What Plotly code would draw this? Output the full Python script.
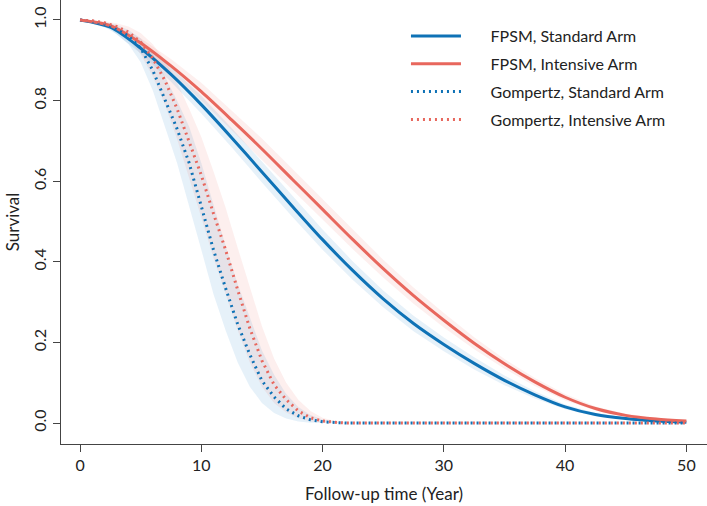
import plotly.graph_objects as go

# ---- data ----
fpsm_years = [0, 2.5, 5, 7.5, 10, 12.5, 15, 17.5, 20, 22.5, 25, 27.5, 30, 32.5, 35, 37.5, 40, 42.5, 45, 47.5, 50]
fpsm_std = [1.0, 0.982, 0.93, 0.865, 0.79, 0.708, 0.623, 0.538, 0.455, 0.378, 0.308, 0.247, 0.195, 0.148, 0.106, 0.07, 0.04, 0.021, 0.011, 0.005, 0.002]
fpsm_std_lo = [1.0, 0.977, 0.917, 0.847, 0.768, 0.684, 0.597, 0.512, 0.43, 0.355, 0.287, 0.228, 0.178, 0.133, 0.094, 0.061, 0.034, 0.017, 0.008, 0.003, 0.001]
fpsm_std_hi = [1.0, 0.987, 0.943, 0.883, 0.812, 0.732, 0.649, 0.564, 0.48, 0.401, 0.329, 0.266, 0.212, 0.163, 0.118, 0.079, 0.046, 0.025, 0.014, 0.007, 0.004]
fpsm_int = [1.0, 0.986, 0.943, 0.886, 0.822, 0.752, 0.68, 0.605, 0.53, 0.455, 0.383, 0.316, 0.255, 0.198, 0.147, 0.102, 0.064, 0.036, 0.019, 0.01, 0.005]
fpsm_int_lo = [1.0, 0.981, 0.931, 0.869, 0.8, 0.728, 0.654, 0.579, 0.505, 0.431, 0.361, 0.296, 0.237, 0.183, 0.135, 0.092, 0.056, 0.031, 0.015, 0.007, 0.003]
fpsm_int_hi = [1.0, 0.991, 0.955, 0.903, 0.844, 0.776, 0.706, 0.631, 0.555, 0.479, 0.405, 0.336, 0.273, 0.213, 0.159, 0.112, 0.072, 0.041, 0.023, 0.013, 0.007]

gomp_years = list(range(0, 51))
gomp_std = [1.0, 0.997, 0.99, 0.978, 0.96, 0.93, 0.875, 0.80, 0.73, 0.645, 0.54, 0.43, 0.335, 0.245, 0.17, 0.105, 0.065, 0.035, 0.018, 0.008, 0.003, 0.001, 0.0] + [0.0] * 28
gomp_std_lo = [1.0, 0.995, 0.983, 0.965, 0.94, 0.895, 0.825, 0.735, 0.645, 0.54, 0.43, 0.32, 0.23, 0.15, 0.09, 0.05, 0.025, 0.011, 0.004, 0.001, 0.0, 0.0, 0.0] + [0.0] * 28
gomp_std_hi = [1.0, 0.999, 0.995, 0.988, 0.975, 0.955, 0.915, 0.86, 0.8, 0.735, 0.645, 0.54, 0.44, 0.345, 0.26, 0.18, 0.12, 0.072, 0.04, 0.02, 0.009, 0.003, 0.001] + [0.0] * 28
gomp_int = [1.0, 0.998, 0.993, 0.984, 0.97, 0.945, 0.905, 0.85, 0.78, 0.70, 0.615, 0.52, 0.43, 0.33, 0.235, 0.155, 0.095, 0.058, 0.03, 0.013, 0.005, 0.002, 0.0] + [0.0] * 28
gomp_int_lo = [1.0, 0.996, 0.987, 0.973, 0.952, 0.915, 0.86, 0.79, 0.705, 0.61, 0.51, 0.41, 0.32, 0.23, 0.15, 0.09, 0.05, 0.026, 0.012, 0.004, 0.001, 0.0, 0.0] + [0.0] * 28
gomp_int_hi = [1.0, 0.999, 0.997, 0.992, 0.984, 0.968, 0.94, 0.9, 0.845, 0.78, 0.71, 0.625, 0.535, 0.435, 0.335, 0.24, 0.16, 0.1, 0.058, 0.03, 0.013, 0.005, 0.001] + [0.0] * 28

x_ticks = [0, 10, 20, 30, 40, 50]
y_ticks = [0.0, 0.2, 0.4, 0.6, 0.8, 1.0]
y_tick_labels = ["0.0", "0.2", "0.4", "0.6", "0.8", "1.0"]
series_names = ["FPSM, Standard Arm", "FPSM, Intensive Arm", "Gompertz, Standard Arm", "Gompertz, Intensive Arm"]

BLUE = "#0e72b6"
RED = "#e8675d"
BLUE_BAND = "rgba(60,150,210,0.13)"
RED_BAND = "rgba(240,110,100,0.11)"
FONT = "Lato"
PAD = "\u00a0" * 6

fig = go.Figure()

def band(xs, lo, hi, color):
    fig.add_trace(go.Scatter(
        x=list(xs) + list(xs)[::-1], y=list(hi) + list(lo)[::-1],
        fill="toself", fillcolor=color, line=dict(width=0), mode="lines",
        hoverinfo="skip", showlegend=False))

band(gomp_years, gomp_std_lo, gomp_std_hi, BLUE_BAND)
band(gomp_years, gomp_int_lo, gomp_int_hi, RED_BAND)
band(fpsm_years, fpsm_std_lo, fpsm_std_hi, BLUE_BAND)
band(fpsm_years, fpsm_int_lo, fpsm_int_hi, RED_BAND)

fig.add_trace(go.Scatter(x=fpsm_years, y=fpsm_std, mode="lines", name=PAD + series_names[0],
                         legendgroup="a", line=dict(color=BLUE, width=3, shape="spline", smoothing=0.8)))
fig.add_trace(go.Scatter(x=fpsm_years, y=fpsm_int, mode="lines", name=PAD + series_names[1],
                         legendgroup="b", line=dict(color=RED, width=3, shape="spline", smoothing=0.8)))
fig.add_trace(go.Scatter(x=gomp_years, y=gomp_std, mode="lines", name=PAD + series_names[2],
                         legendgroup="c", line=dict(color=BLUE, width=3, dash="2px,4px")))
fig.add_trace(go.Scatter(x=gomp_years, y=gomp_int, mode="lines", name=PAD + series_names[3],
                         legendgroup="d", line=dict(color=RED, width=3, dash="2px,4px")))

axis_common = dict(showgrid=False, zeroline=False, showline=True, linecolor="#444", linewidth=1.3,
                   ticks="outside", ticklen=7, tickcolor="#444", tickwidth=1.3, automargin=False,
                   tickfont=dict(family=FONT, size=16, color="#222"))

fig.update_layout(
    width=707, height=506,
    margin=dict(l=61, r=0, t=0, b=62),
    plot_bgcolor="white", paper_bgcolor="white",
    font=dict(family=FONT, size=16, color="#222"),
    xaxis=dict(range=[-1.57, 51.7], tickvals=x_ticks,
               title=dict(text="Follow-up time (Year)", font=dict(family=FONT, size=17), standoff=14),
               **axis_common),
    yaxis=dict(range=[-0.052, 1.0496], tickvals=y_ticks, ticktext=y_tick_labels, tickangle=-90,
               title=dict(text="Survival", font=dict(family=FONT, size=17), standoff=6),
               **axis_common),
    legend=dict(x=0.534, y=0.957, xanchor="left", yanchor="top", bgcolor="rgba(0,0,0,0)",
                font=dict(family=FONT, size=16, color="#222"), itemwidth=50,
                tracegroupgap=4, traceorder="grouped"),
    showlegend=True,
)

fig.write_html("out.html", config={"displayModeBar": False},
               post_script="document.body.style.margin='0';")
